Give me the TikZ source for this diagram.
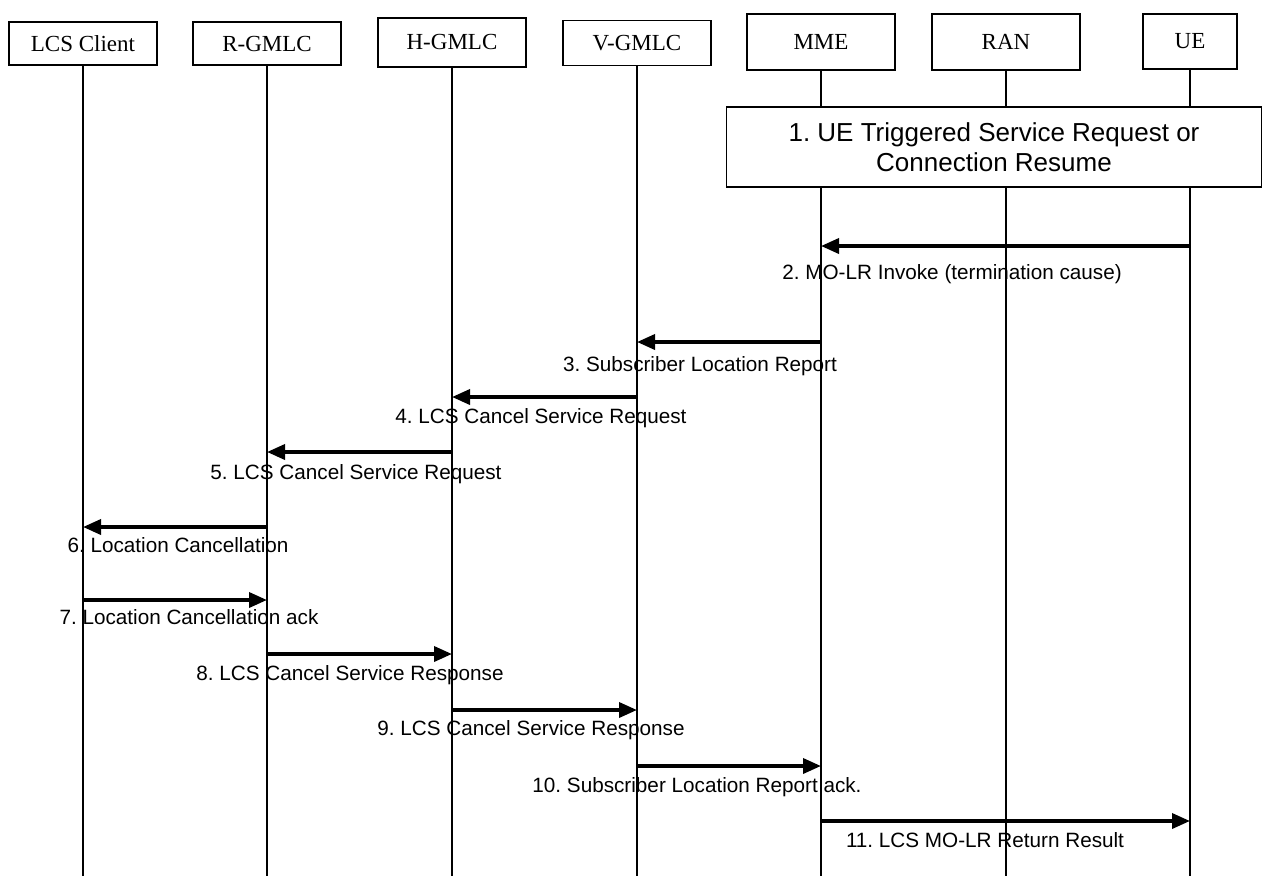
\documentclass[tikz,border=0pt]{standalone}
\usepackage{xcolor}
\usepackage{fontspec}
\setmainfont{Liberation Serif}
\newfontfamily\msgfont{Liberation Sans}
\usepackage{tikz}
\usetikzlibrary{positioning, arrows.meta}
\frenchspacing

\tikzset{
    entity/.style={draw, line width=1.2pt, inner sep=0pt, font=\fontsize{23}{26}\selectfont},
    lifeline/.style={line width=1.3pt},
    msg/.style={line width=3.6pt, -{Triangle[length=18pt, width=15pt]}},
    msglabel/.style={anchor=base, inner sep=0pt, font=\msgfont\fontsize{20.7}{24}\selectfont}
}

\begin{document}
\begin{tikzpicture}[x=1pt, y=-1pt]
    \useasboundingbox (0,0) rectangle (1262,876);
    \coordinate (bottom) at (0,876);

    \node[entity, minimum width=148pt, minimum height=43pt] (client) at (83,43.5) {LCS Client};
    \node[entity, minimum width=148pt, minimum height=43pt] (rgmlc) at (267,43.5) {R-GMLC};
    \node[entity, line width=2pt, minimum width=148pt, minimum height=49pt] (hgmlc) at (452,42) {H-GMLC};
    \node[entity, minimum width=148pt, minimum height=45pt] (vgmlc) at (637,43) {V-GMLC};
    \node[entity, minimum width=148pt, minimum height=56pt] (mme) at (821,42) {MME};
    \node[entity, minimum width=148pt, minimum height=56pt] (ran) at (1006,42) {RAN};
    \node[entity, minimum width=94pt, minimum height=55pt] (ue) at (1190,41.5) {UE};

    \foreach \n in {client, rgmlc, hgmlc, vgmlc, mme, ran, ue}
        \draw[lifeline] (\n.south) -- (\n.south |- bottom);

    \node[draw, fill=white, line width=1.3pt, minimum width=535pt, minimum height=80pt, align=center,
          inner ysep=0pt, font=\msgfont\fontsize{26}{30}\selectfont] (trigger) at (994,147)
          {\raisebox{-4pt}{1. UE Triggered Service Request or}\\\raisebox{-4pt}{Connection Resume}};

    \draw[msg] (ue.south |- 0,246) -- (mme.south |- 0,246);
    \node[msglabel] (m2) at (952,279) {2. MO-LR Invoke (termination cause)};
    \draw[msg] (mme.south |- 0,342) -- (vgmlc.south |- 0,342);
    \node[msglabel] (m3) at (700,371) {3. Subscriber Location Report};
    \draw[msg] (vgmlc.south |- 0,397) -- (hgmlc.south |- 0,397);
    \node[msglabel] (m4) at (541,423) {4. LCS Cancel Service Request};
    \draw[msg] (hgmlc.south |- 0,452) -- (rgmlc.south |- 0,452);
    \node[msglabel] (m5) at (356,479) {5. LCS Cancel Service Request};
    \draw[msg] (rgmlc.south |- 0,527) -- (client.south |- 0,527);
    \node[msglabel] (m6) at (178,552) {6. Location Cancellation};
    \draw[msg] (client.south |- 0,600) -- (rgmlc.south |- 0,600);
    \node[msglabel] (m7) at (189,624) {7. Location Cancellation ack};
    \draw[msg] (rgmlc.south |- 0,654) -- (hgmlc.south |- 0,654);
    \node[msglabel] (m8) at (350,680) {8. LCS Cancel Service Response};
    \draw[msg] (hgmlc.south |- 0,710) -- (vgmlc.south |- 0,710);
    \node[msglabel] (m9) at (531,735) {9. LCS Cancel Service Response};
    \draw[msg] (vgmlc.south |- 0,766) -- (mme.south |- 0,766);
    \node[msglabel] (m10) at (697,792) {10. Subscriber Location Report ack.};
    \draw[msg] (mme.south |- 0,821) -- (ue.south |- 0,821);
    \node[msglabel] (m11) at (985,847) {11. LCS MO-LR Return Result};
\end{tikzpicture}
\end{document}
